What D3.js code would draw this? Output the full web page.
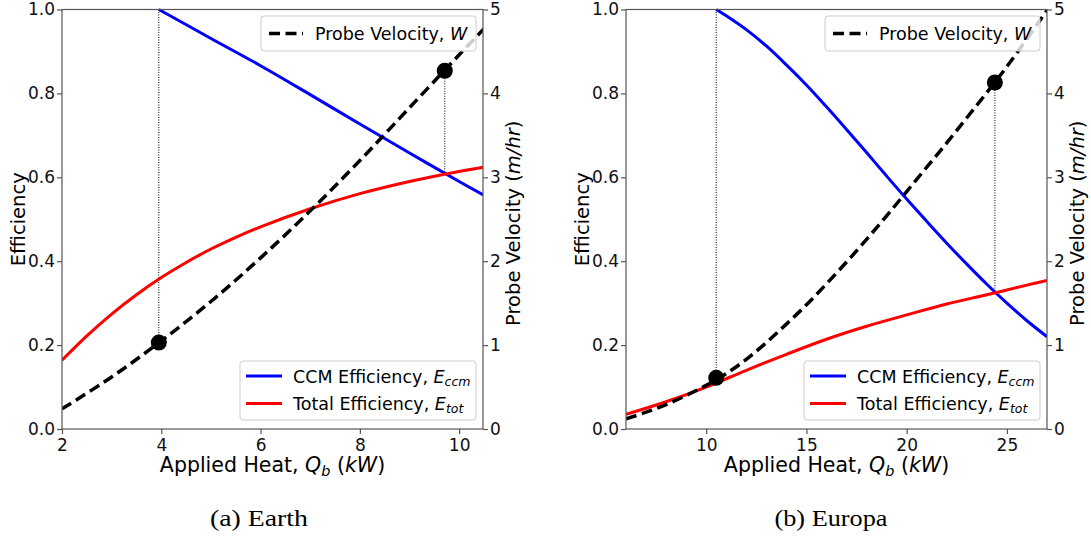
<!DOCTYPE html>
<html><head><meta charset="utf-8">
<script src="https://cdn.jsdelivr.net/npm/d3@7"></script>
<style>
body{margin:0;background:#fff;}
</style></head>
<body><svg id="c" width="1091" height="538"></svg>
<script>
// ---------- Earth (a) ----------
const earthCcmX   = [3.95, 5, 6, 7, 8, 9, 10, 10.5];
const earthCcm    = [1.0, 0.931, 0.866, 0.797, 0.727, 0.658, 0.59, 0.557];
const earthTotX   = [2, 2.5, 3, 3.5, 4, 4.5, 5, 5.5, 6, 7, 8, 9, 10, 10.5];
const earthTot    = [0.164, 0.222, 0.274, 0.32, 0.361, 0.397, 0.429, 0.457, 0.482, 0.525, 0.561, 0.59, 0.614, 0.624];
const earthWX     = [2, 3, 4, 5, 6, 7, 8, 9, 10, 10.5];
const earthW      = [0.24, 0.62, 1.05, 1.52, 2.04, 2.6, 3.2, 3.83, 4.46, 4.77];
const earthPtsX   = [3.95, 9.71];
const earthPtsW   = [1.03, 4.27];
const earthXTicks = [2, 4, 6, 8, 10];
const earthXDomain = [2, 10.48];

// ---------- Europa (b) ----------
const europaCcmX  = [10.5, 11, 12, 13, 14, 15, 16, 17, 18, 19, 20, 21, 22, 23, 24, 25, 26, 27];
const europaCcm   = [1.0, 0.985, 0.952, 0.913, 0.868, 0.82, 0.768, 0.714, 0.659, 0.603, 0.548, 0.495, 0.443, 0.393, 0.345, 0.30, 0.258, 0.22];
const europaTotX  = [6, 8, 10, 12, 14, 16, 18, 20, 22, 24, 26, 27];
const europaTot   = [0.035, 0.065, 0.10, 0.14, 0.178, 0.214, 0.245, 0.272, 0.298, 0.32, 0.343, 0.354];
const europaWX    = [6, 7, 8, 9, 10, 11, 12, 13, 14, 15, 16, 17, 18, 19, 20, 21, 22, 23, 24, 25, 26, 27];
const europaW     = [0.12, 0.2, 0.29, 0.4, 0.52, 0.66, 0.83, 1.03, 1.25, 1.48, 1.73, 1.99, 2.26, 2.54, 2.83, 3.12, 3.41, 3.71, 4.01, 4.32, 4.65, 4.99];
const europaPtsX  = [10.5, 24.4];
const europaPtsW  = [0.61, 4.13];
const europaXTicks = [10, 15, 20, 25];
const europaXDomain = [6, 27];

const effTicks = [0, 0.2, 0.4, 0.6, 0.8, 1.0];
const velTicks = [0, 1, 2, 3, 4, 5];
const captions = ["(a) Earth", "(b) Europa"];

const svg = d3.select("#c");
svg.append("rect").attr("width",1091).attr("height",538).attr("fill","#fff");

const zip = (xs, ys) => xs.map((x,i)=>[x, ys[i]]);

const panels = [
  {left:62, right:483, top:9.5, bottom:429, xDomain:earthXDomain, xTicks:earthXTicks,
   ccm:zip(earthCcmX,earthCcm), tot:zip(earthTotX,earthTot), w:zip(earthWX,earthW),
   ptsX:earthPtsX, ptsW:earthPtsW, caption:captions[0], capX:259, capW:98},
  {left:626, right:1047, top:9.5, bottom:429, xDomain:europaXDomain, xTicks:europaXTicks,
   ccm:zip(europaCcmX,europaCcm), tot:zip(europaTotX,europaTot), w:zip(europaWX,europaW),
   ptsX:europaPtsX, ptsW:europaPtsW, caption:captions[1], capX:831, capW:113}
];

function interp(pts, x){
  for(let i=0;i<pts.length-1;i++){
    if(x>=pts[i][0] && x<=pts[i+1][0]){
      const t=(x-pts[i][0])/(pts[i+1][0]-pts[i][0]);
      return pts[i][1]+t*(pts[i+1][1]-pts[i][1]);
    }
  }
  return pts[pts.length-1][1];
}

const SANS = "'DejaVu Sans', sans-serif";

panels.forEach((p, idx) => {
  const x = d3.scaleLinear().domain(p.xDomain).range([p.left, p.right]);
  const y = d3.scaleLinear().domain([0,1]).range([p.bottom, p.top]);
  const yv = d3.scaleLinear().domain([0,5]).range([p.bottom, p.top]);
  const g = svg.append("g").style("font-family", SANS);
  const clipId = "clip"+idx;
  svg.append("clipPath").attr("id",clipId).append("rect")
    .attr("x",p.left).attr("y",p.top-2).attr("width",p.right-p.left).attr("height",p.bottom-p.top+2);

  const plot = g.append("g").attr("clip-path","url(#"+clipId+")");
  const curve = d3.curveCatmullRom.alpha(0.5);
  const lineE = d3.line().x(d=>x(d[0])).y(d=>y(d[1])).curve(curve);
  const lineV = d3.line().x(d=>x(d[0])).y(d=>yv(d[1])).curve(curve);

  // dotted guide lines
  const [x1, x2] = p.ptsX;
  const [w1, w2] = p.ptsW;
  const cross2 = interp(p.tot, x2);
  plot.append("line").attr("x1",x(x1)).attr("x2",x(x1)).attr("y1",y(1)).attr("y2",yv(w1))
    .attr("stroke","#000").attr("stroke-width",1).attr("stroke-dasharray","1,1.5");
  plot.append("line").attr("x1",x(x2)).attr("x2",x(x2)).attr("y1",yv(w2)).attr("y2",y(cross2))
    .attr("stroke","#000").attr("stroke-width",1).attr("stroke-dasharray","1,1.5");

  plot.append("path").attr("d",lineE(p.ccm)).attr("fill","none").attr("stroke","#0000ff").attr("stroke-width",3);
  plot.append("path").attr("d",lineE(p.tot)).attr("fill","none").attr("stroke","#ff0000").attr("stroke-width",3);
  plot.append("path").attr("d",lineV(p.w)).attr("fill","none").attr("stroke","#000").attr("stroke-width",3.5)
    .attr("stroke-dasharray","11,5.5");
  plot.selectAll("circle.pt").data(p.ptsX).enter().append("circle")
    .attr("cx",d=>x(d)).attr("cy",(d,i)=>yv(p.ptsW[i])).attr("r",8).attr("fill","#000");

  // frame
  g.append("rect").attr("x",p.left).attr("y",p.top).attr("width",p.right-p.left).attr("height",p.bottom-p.top)
    .attr("fill","none").attr("stroke","#555").attr("stroke-width",1.2);

  // axes
  const fs = "17px";
  const ax = g.append("g").attr("transform",`translate(0,${p.bottom})`)
    .call(d3.axisBottom(x).tickValues(p.xTicks).tickSize(5).tickSizeOuter(0).tickFormat(d3.format("d")));
  const ay = g.append("g").attr("transform",`translate(${p.left},0)`)
    .call(d3.axisLeft(y).tickValues(effTicks).tickSize(5).tickSizeOuter(0).tickFormat(d3.format(".1f")));
  const av = g.append("g").attr("transform",`translate(${p.right},0)`)
    .call(d3.axisRight(yv).tickValues(velTicks).tickSize(5).tickSizeOuter(0).tickFormat(d3.format("d")));
  [ax,ay,av].forEach(a=>{
    a.select(".domain").remove();
    a.selectAll(".tick line").attr("stroke","#555").attr("stroke-width",1.2);
    a.selectAll(".tick text").style("font-size",fs).style("font-family",SANS).attr("fill","#111");
  });
  ax.selectAll(".tick text").attr("dy","0.95em").attr("y",6);
  ay.selectAll(".tick text").attr("x",-7);
  av.selectAll(".tick text").attr("x",7);

  // axis labels
  const cx = (p.left+p.right)/2, cy = (p.top+p.bottom)/2;
  const xl = g.append("text").attr("x",cx).attr("y",472).attr("text-anchor","middle").style("font-size","20.5px");
  xl.append("tspan").text("Applied Heat, ");
  xl.append("tspan").attr("font-style","italic").text("Q");
  xl.append("tspan").attr("font-style","italic").style("font-size","14.5px").attr("dy",4).text("b");
  xl.append("tspan").attr("dy",-4).text(" (");
  xl.append("tspan").attr("font-style","italic").text("kW");
  xl.append("tspan").text(")");

  g.append("text").attr("transform",`translate(${p.left-37},${cy}) rotate(-90)`)
    .attr("text-anchor","middle").style("font-size","19.5px").text("Efficiency");
  const vl = g.append("text").attr("transform",`translate(${p.right+37},${cy+4}) rotate(-90)`)
    .attr("text-anchor","middle").style("font-size","19.5px");
  vl.append("tspan").text("Probe Velocity (");
  vl.append("tspan").attr("font-style","italic").text("m/hr");
  vl.append("tspan").text(")");

  // top legend
  const lgW = 215, lgR = p.right-7;
  const tl = g.append("g");
  tl.append("rect").attr("x",lgR-lgW).attr("y",16).attr("width",lgW).attr("height",35).attr("rx",3)
    .attr("fill","#fff").attr("fill-opacity",0.8).attr("stroke","#ccc");
  tl.append("line").attr("x1",lgR-lgW+8).attr("x2",lgR-lgW+42).attr("y1",33.5).attr("y2",33.5)
    .attr("stroke","#000").attr("stroke-width",3.5).attr("stroke-dasharray","11,5.5");
  const tt = tl.append("text").attr("x",lgR-lgW+54).attr("y",39.5).style("font-size","17.5px");
  tt.append("tspan").text("Probe Velocity, ");
  tt.append("tspan").attr("font-style","italic").text("W");

  // bottom legend
  const bW = 236;
  const bl = g.append("g");
  bl.append("rect").attr("x",lgR-bW).attr("y",361).attr("width",bW).attr("height",59).attr("rx",3)
    .attr("fill","#fff").attr("fill-opacity",0.8).attr("stroke","#ccc");
  const items = [["#0000ff","CCM Efficiency, ","E","ccm",376],["#ff0000","Total Efficiency, ","E","tot",403.5]];
  items.forEach(it=>{
    bl.append("line").attr("x1",lgR-bW+6).attr("x2",lgR-bW+42).attr("y1",it[4]).attr("y2",it[4])
      .attr("stroke",it[0]).attr("stroke-width",3);
    const t = bl.append("text").attr("x",lgR-bW+53).attr("y",it[4]+6.5).style("font-size","17.5px");
    t.append("tspan").text(it[1]);
    t.append("tspan").attr("font-style","italic").text(it[2]);
    t.append("tspan").attr("font-style","italic").style("font-size","12.5px").attr("dy",3).text(it[3]);
  });

  // caption
  g.append("text").attr("x",p.capX).attr("y",526).attr("text-anchor","middle")
    .style("font-family","'Liberation Serif', serif").style("font-size","23px")
    .attr("textLength",p.capW).attr("lengthAdjust","spacingAndGlyphs").text(p.caption);
});
</script>
</body></html>
